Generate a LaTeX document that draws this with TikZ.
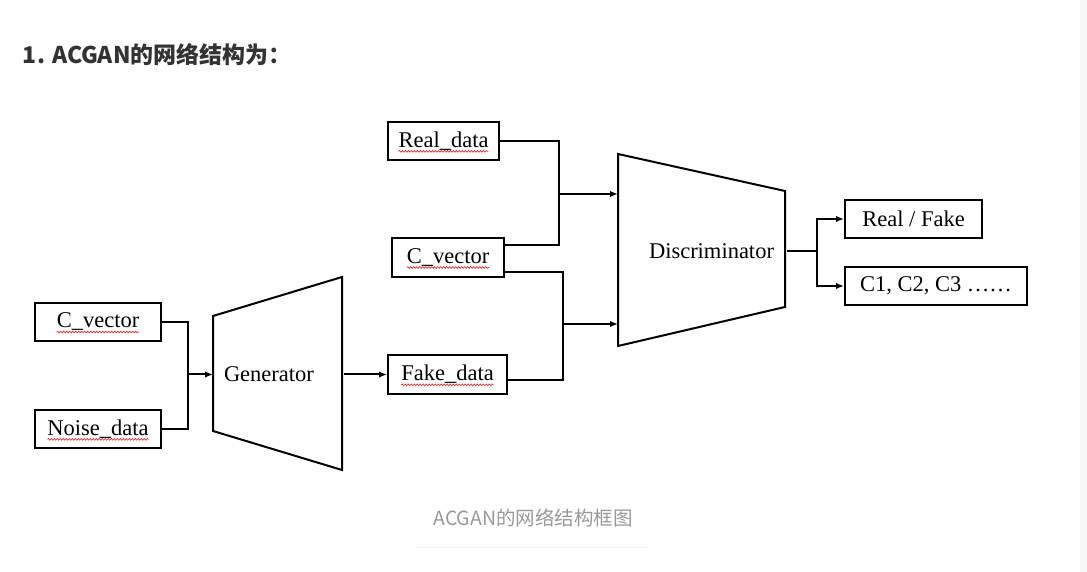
\documentclass[tikz,border=0pt]{standalone}
\usepackage{fontspec}
\setmainfont{Liberation Serif}
\newfontfamily\cjk{Noto Sans CJK SC}
\usetikzlibrary{positioning,calc,arrows.meta,decorations.pathmorphing}
\definecolor{headgray}{HTML}{333333}
\definecolor{capgray}{HTML}{999999}
\definecolor{rulegray}{HTML}{EEEEEE}
\definecolor{wavered}{HTML}{E03A3A}

\begin{document}
\begin{tikzpicture}[x=1pt, y=1pt, line width=2pt,
    font=\fontsize{22.5pt}{27pt}\selectfont,
    box/.style={draw, rectangle, minimum height=38pt, inner sep=0pt},
    body/.style={rectangle, inner sep=0pt},
    arrow/.style={-{Latex[length=8pt,width=6.5pt]}},
    spellwave/.style={wavered, line width=0.7pt, decorate,
      decoration={snake, segment length=3pt, amplitude=0.9pt}}]
  \fill [white] (0,0) rectangle (1087,572);
  \useasboundingbox (0,0) rectangle (1087,572);
  \fill [gray!7] (1080,0) rectangle (1087,572);

  % Heading and caption
  \node [anchor=west, inner sep=0pt, text=headgray,
    font=\cjk\bfseries\fontsize{23pt}{27pt}\selectfont] (title) at (22,517) {1. ACGAN的网络结构为：};
  \node [text=capgray, font=\cjk\fontsize{19.5pt}{23pt}\selectfont] (caption) at (533,54) {ACGAN的网络结构框图};
  \draw [rulegray, line width=1pt] (416,24) -- (648,24);

  % Generator inputs
  \node [box, minimum width=126pt] (cvecA) at (98,250) {C\_vector};
  \node [box, minimum width=126pt, below=67pt of cvecA] (noise) {Noise\_data};

  % Generator
  \node [body, minimum width=129pt, minimum height=115pt] (gen) at (278.5,197.5) {};
  \node [right=10pt of gen.west, inner sep=0pt] (gentext) {Generator};
  \draw (gen.north west) -- ++(129,39) -- ++(0,-193) -- ++(-129,39) -- cycle;

  % Discriminator inputs
  \node [box, minimum width=119pt, minimum height=39pt] (fake) at (447.5,197.5) {Fake\_data};
  \node [box, minimum width=111pt] (real) at (443.5,431) {Real\_data};
  \node [box, minimum width=112pt, minimum height=39pt] (cvecB) at (448,314.5) {C\_vector};

  % Discriminator
  \node [body, minimum width=167pt, minimum height=192pt] (disc) at (702.5,321) {};
  \node [right=30pt of disc.west, inner sep=0pt] (disctext) {Discriminator};
  \draw (disc.north west) -- ++(167,-37) -- ++(0,-116) -- ++(-167,-39) -- cycle;

  % Outputs
  \node [box, minimum width=137pt] (rf) at (913.5,353) {Real / Fake};
  \node [box, minimum width=182pt, below=27pt of rf.south west, anchor=north west] (cls) {C1, C2, C3 ……};

  % Arrows for Generator
  \coordinate (mergeA) at (188,197.5);
  \draw (cvecA.east) -| (mergeA);
  \draw (noise.east) -| (mergeA);
  \draw [arrow] (mergeA) -- (gen.west);
  \draw [arrow] (gen.east |- fake.west) -- (fake.west);

  % Arrows for Discriminator
  \coordinate (mergeB) at (559,378);
  \coordinate (mergeC) at (563,248);
  \draw (real.east) -| (mergeB);
  \draw ([yshift=12.5pt]cvecB.east) -| (mergeB);
  \draw [arrow] (mergeB) -- (mergeB -| disc.west);
  \draw ([yshift=-14.5pt]cvecB.east) -| (mergeC);
  \draw ([yshift=-5.5pt]fake.east) -| (mergeC);
  \draw [arrow] (mergeC) -- (mergeC -| disc.west);

  % Arrows for outputs
  \draw (disc.east) -- ++(30,0) coordinate (split);
  \draw [arrow] (split) |- (rf.west);
  \draw [arrow] (split) |- (cls.west);

  % Spell-check marks
  \foreach \n in {cvecA,noise,real,cvecB,fake}
    \draw [spellwave] ($(\n.text)+(0,-4pt)$) -- ($(\n.text)!2!(\n.base)+(0,-4pt)$);
\end{tikzpicture}
\end{document}
